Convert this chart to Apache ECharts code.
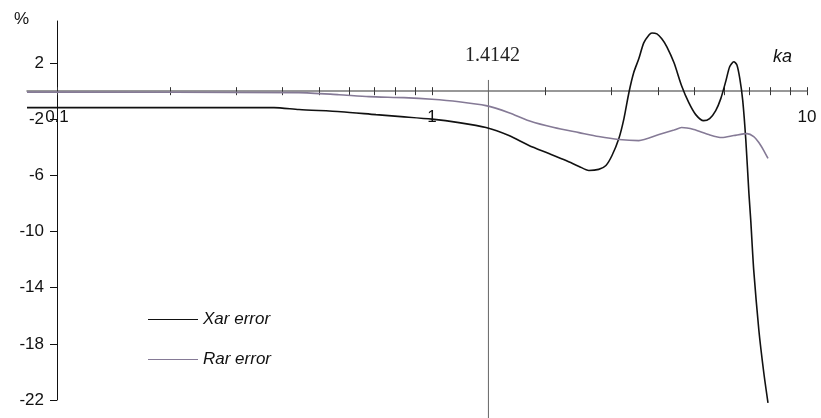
<!DOCTYPE html>
<html>
<head>
<meta charset="utf-8">
<script src="https://cdn.jsdelivr.net/npm/echarts@6/dist/echarts.min.js"></script>
<style>
  html, body { margin: 0; padding: 0; background: #fff; }
  #chart { width: 821px; height: 418px; }
</style>
</head>
<body>
<div id="chart"></div>
<script>
// Relative reactance / resistance error (%) against ka, log scale
const kaXar = [0.0832, 0.379, 0.442, 0.572, 0.709, 0.827, 1.0, 1.18, 1.393, 1.604, 1.814, 2.05, 2.277, 2.467, 2.62, 2.783, 2.91, 3.02, 3.15, 3.25, 3.35, 3.45, 3.56, 3.67, 3.79, 3.86, 3.98, 4.10, 4.23, 4.42, 4.63, 4.84, 5.05, 5.30, 5.50, 5.71, 5.89, 6.08, 6.22, 6.38, 6.50, 6.62, 6.74, 6.87, 7.00, 7.08, 7.21, 7.44, 7.67, 7.87];
const xarError = [-1.17, -1.17, -1.31, -1.46, -1.67, -1.81, -1.99, -2.24, -2.59, -3.16, -3.87, -4.44, -4.94, -5.36, -5.65, -5.57, -5.29, -4.58, -3.37, -1.95, -0.11, 1.31, 2.31, 3.44, 4.01, 4.15, 4.08, 3.73, 3.16, 2.02, 0.39, -0.82, -1.67, -2.10, -1.95, -1.38, -0.53, 0.75, 1.74, 2.10, 1.88, 0.89, -0.67, -3.52, -7.28, -9.20, -12.75, -17.01, -20.06, -22.2];

const kaRar = [0.0832, 0.442, 0.565, 0.679, 0.842, 1.0, 1.18, 1.393, 1.604, 1.814, 2.115, 2.467, 2.783, 3.15, 3.56, 4.03, 4.42, 4.63, 4.99, 5.47, 5.93, 6.38, 6.92, 7.21, 7.44, 7.67, 7.87];
const rarError = [-0.07, -0.10, -0.25, -0.39, -0.46, -0.57, -0.75, -1.03, -1.53, -2.10, -2.59, -2.95, -3.23, -3.44, -3.52, -3.09, -2.77, -2.59, -2.73, -3.09, -3.30, -3.16, -3.02, -3.23, -3.66, -4.23, -4.79];

const seriesNames = ['Xar error', 'Rar error'];
const xTickLabels = [0.1, 1, 10];
const xMinorTicks = [0.1, 0.2, 0.3, 0.4, 0.5, 0.6, 0.7, 0.8, 0.9, 1, 2, 3, 4, 5, 6, 7, 8, 9, 10];
const yTickLabels = [-22, -18, -14, -10, -6, -2, 2];
const markKa = 1.4142;
const markSpan = [0.8, -23.3];

const pairs = (xs, ys) => xs.map((x, i) => [x, ys[i]]);

const font = 'Arial, "Liberation Sans", sans-serif';
const chart = echarts.init(document.getElementById('chart'), null, { renderer: 'canvas' });

// plot box and y range; the ka axis is laid at y = 0
const plot = { left: 27, right: 14, top: 21, bottom: 18 };
const yMin = -22, yMax = 5;
const plotH = 418 - plot.top - plot.bottom;
const zeroOffset = -(yMax / (yMax - yMin)) * plotH;

const xBase = {
  type: 'log',
  logBase: 10,
  min: 0.0832,
  max: 10,
  position: 'top',
  offset: zeroOffset,
  splitLine: { show: false },
  minorTick: { show: false }
};

chart.setOption({
  animation: false,
  backgroundColor: '#fff',
  grid: Object.assign({ containLabel: false, outerBoundsMode: 'none' }, plot),
  xAxis: [
    Object.assign({}, xBase, {
      axisLine: { show: true, onZero: false, lineStyle: { color: '#777', width: 1.5 } },
      axisTick: { show: true, inside: true, length: 4, customValues: xMinorTicks, lineStyle: { color: '#333', width: 1 } },
      axisLabel: {
        show: true, inside: true, margin: 18, customValues: xTickLabels,
        color: '#111', fontFamily: font, fontSize: 17,
        formatter: v => String(Math.round(v * 10) / 10)
      }
    }),
    Object.assign({}, xBase, {
      axisLine: { show: false, onZero: false },
      axisTick: { show: true, inside: false, length: 4, customValues: xMinorTicks, lineStyle: { color: '#333', width: 1 } },
      axisLabel: { show: false }
    })
  ],
  yAxis: {
    type: 'value',
    min: yMin,
    max: yMax,
    offset: -30,
    splitLine: { show: false },
    axisLine: { show: true, onZero: false, lineStyle: { color: '#111', width: 1 } },
    axisTick: { show: true, length: 7, customValues: yTickLabels, lineStyle: { color: '#111' } },
    axisLabel: { margin: 13, customValues: yTickLabels, color: '#111', fontFamily: font, fontSize: 17 }
  },
  legend: {
    orient: 'vertical',
    left: 143,
    top: 306,
    itemWidth: 50,
    itemHeight: 10,
    itemGap: 23,
    icon: 'path://M0,5L50,5L50,6L0,6Z',
    textStyle: { fontFamily: font, fontSize: 17, fontStyle: 'italic', color: '#111', padding: [0, 0, 0, 0] },
    data: seriesNames
  },
  series: [
    {
      name: seriesNames[0],
      type: 'line',
      data: pairs(kaXar, xarError),
      showSymbol: false,
      smooth: 0.25,
      clip: false,
      color: '#111',
      lineStyle: { color: '#111', width: 1.6 }
    },
    {
      name: seriesNames[1],
      type: 'line',
      data: pairs(kaRar, rarError),
      showSymbol: false,
      smooth: 0.25,
      clip: false,
      color: '#857a96',
      lineStyle: { color: '#857a96', width: 1.6 }
    },
    {
      // vertical marker at ka = sqrt(2), labelled at its top end
      name: 'marker',
      type: 'line',
      data: [
        { value: [markKa, markSpan[0]], label: { show: true } },
        { value: [markKa, markSpan[1]] }
      ],
      showSymbol: true,
      showAllSymbol: true,
      symbol: 'circle',
      symbolSize: 0.01,
      itemStyle: { color: 'rgba(0,0,0,0)' },
      clip: false,
      silent: true,
      z: 1,
      lineStyle: { color: '#666', width: 1 },
      label: {
        show: false,
        position: 'top',
        distance: 14,
        offset: [4, 0],
        formatter: String(markKa),
        fontFamily: '"Liberation Serif", "Times New Roman", serif',
        fontSize: 20,
        color: '#222'
      }
    }
  ],
  graphic: [
    { type: 'text', left: 14, top: 11, style: { text: '%', font: '17px Arial, "Liberation Sans", sans-serif', fill: '#111' } },
    { type: 'text', left: 773, top: 48, style: { text: 'ka', font: 'italic 18px Arial, "Liberation Sans", sans-serif', fill: '#111' } }
  ]
});
</script>
</body>
</html>
